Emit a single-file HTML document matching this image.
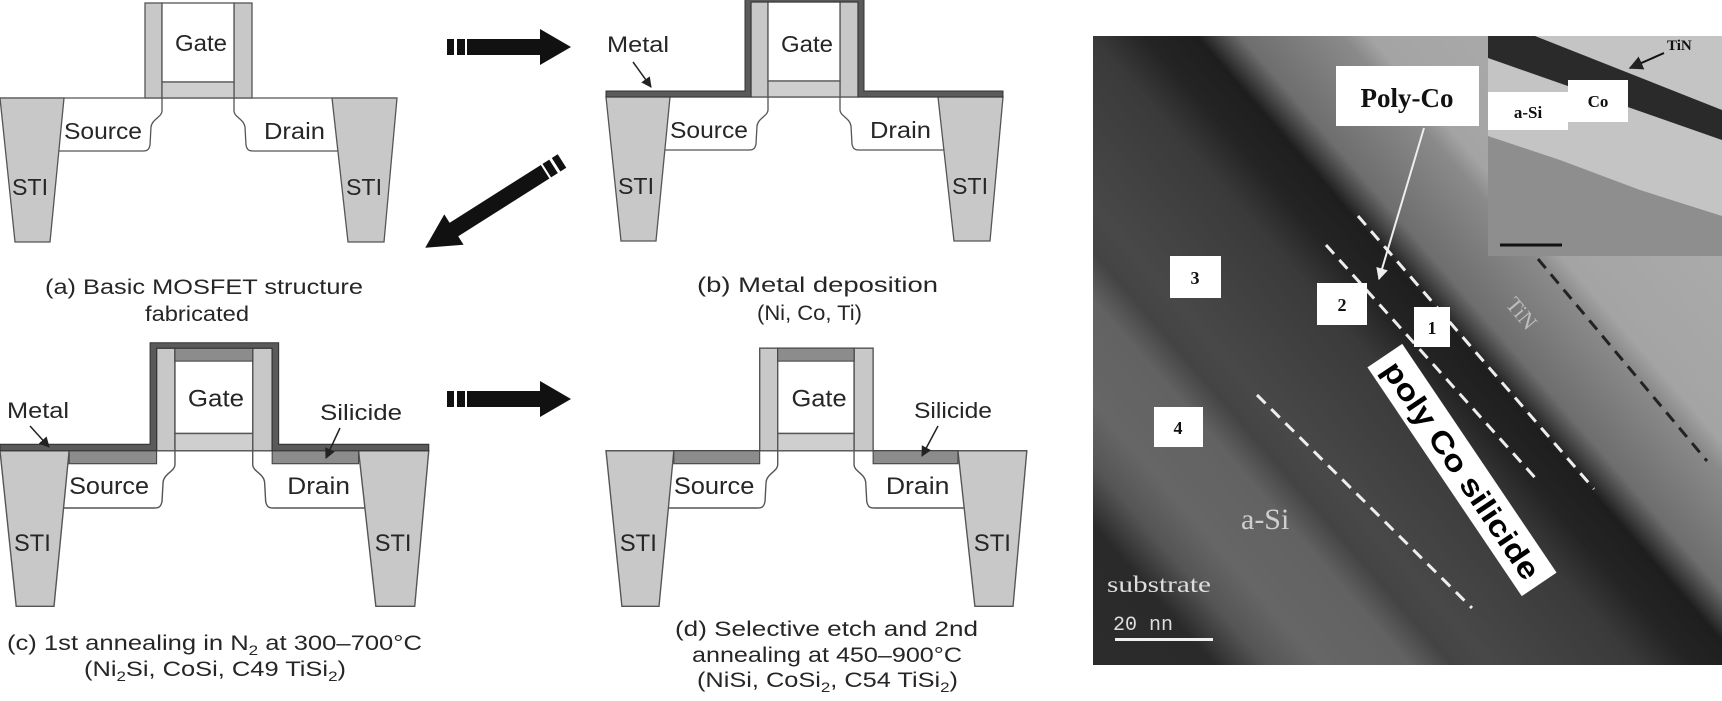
<!DOCTYPE html>
<html><head><meta charset="utf-8"><style>
html,body{margin:0;padding:0;background:#fff;}
svg{display:block;}
.t{font-family:"Liberation Sans",sans-serif;fill:#262626;}
.s{font-family:"Liberation Serif",serif;font-weight:bold;fill:#111;}
</style></head><body>
<svg width="1722" height="701" viewBox="0 0 1722 701" xmlns="http://www.w3.org/2000/svg">
<defs>
<g id="base">
  <line x1="0" y1="97" x2="397" y2="97" stroke="#555" stroke-width="1.3"/>
  <polygon points="0,97 64,97 50,241 15,241" fill="#c8c8c8" stroke="#555" stroke-width="1.3"/>
  <polygon points="332,97 397,97 384,241 348,241" fill="#c8c8c8" stroke="#555" stroke-width="1.3"/>
  <path d="M162,97 L162,110 C162,116 152,118 151,126 L150,144 C149,149 147,150 143,150 L59,150" fill="none" stroke="#555" stroke-width="1.3"/>
  <path d="M234,97 L234,110 C234,116 244,118 245,126 L246,144 C247,149 249,150 253,150 L338,150" fill="none" stroke="#555" stroke-width="1.3"/>
  <rect x="145" y="2" width="17" height="95" fill="#c8c8c8" stroke="#555" stroke-width="1.3"/>
  <rect x="234" y="2" width="18" height="95" fill="#c8c8c8" stroke="#555" stroke-width="1.3"/>
  <rect x="162" y="2" width="72" height="79" fill="#fff" stroke="#555" stroke-width="1.3"/>
  <rect x="162" y="81" width="72" height="16" fill="#cfcfcf" stroke="#555" stroke-width="1.3"/>
</g>
<g id="metal">
  <polygon points="0,91 139,91 139,-3 258,-3 258,91 397,91 397,97 252,97 252,2 145,2 145,97 0,97" fill="#5a5a5a" stroke="#333" stroke-width="1"/>
</g>
<g id="silicide">
  <rect x="64" y="97" width="81" height="12" fill="#8c8c8c" stroke="#444" stroke-width="1"/>
  <rect x="252" y="97" width="80" height="12" fill="#8c8c8c" stroke="#444" stroke-width="1"/>
  <rect x="162" y="2" width="72" height="12" fill="#8c8c8c" stroke="#444" stroke-width="1"/>
</g>
<g id="arrowR">
  <rect x="0" y="-8" width="7" height="16" fill="#111"/>
  <rect x="10" y="-8" width="8" height="16" fill="#111"/>
  <rect x="20" y="-8" width="74" height="16" fill="#111"/>
  <polygon points="93,-18 124,0 93,18" fill="#111"/>
</g>
<marker id="ah" viewBox="0 0 10 10" refX="9" refY="5" markerWidth="7" markerHeight="7" orient="auto">
  <path d="M0,0 L10,5 L0,10 z" fill="#222"/>
</marker>
<marker id="ahw" viewBox="0 0 10 10" refX="9" refY="5" markerWidth="6" markerHeight="6" orient="auto">
  <path d="M0,0 L10,5 L0,10 z" fill="#eee"/>
</marker>
<linearGradient id="tem" gradientUnits="userSpaceOnUse" x1="1093" y1="665" x2="1763" y2="83">
  <stop offset="0" stop-color="#2c2c2c"/>
  <stop offset="0.103" stop-color="#2a2a2a"/>
  <stop offset="0.148" stop-color="#555"/>
  <stop offset="0.193" stop-color="#666"/>
  <stop offset="0.27" stop-color="#626262"/>
  <stop offset="0.305" stop-color="#444"/>
  <stop offset="0.339" stop-color="#484848"/>
  <stop offset="0.463" stop-color="#3a3a3a"/>
  <stop offset="0.508" stop-color="#242424"/>
  <stop offset="0.553" stop-color="#1e1e1e"/>
  <stop offset="0.59" stop-color="#6e6e6e"/>
  <stop offset="0.677" stop-color="#8a8a8a"/>
  <stop offset="0.70" stop-color="#a4a4a4"/>
  <stop offset="1" stop-color="#b2b2b2"/>
</linearGradient>
<clipPath id="temclip"><rect x="1093" y="36" width="629" height="629"/></clipPath>
</defs>

<!-- Panel (a) -->
<g transform="translate(0,1)">
  <use href="#base"/>
  <text class="t" x="175" y="50" font-size="23" textLength="52" lengthAdjust="spacingAndGlyphs">Gate</text>
  <text class="t" x="64" y="138" font-size="23" textLength="78" lengthAdjust="spacingAndGlyphs">Source</text>
  <text class="t" x="264" y="138" font-size="23" textLength="61" lengthAdjust="spacingAndGlyphs">Drain</text>
  <text class="t" x="12" y="194" font-size="23" textLength="36" lengthAdjust="spacingAndGlyphs">STI</text>
  <text class="t" x="346" y="194" font-size="23" textLength="36" lengthAdjust="spacingAndGlyphs">STI</text>
</g>
<text class="t" x="45" y="294" font-size="21" textLength="318" lengthAdjust="spacingAndGlyphs">(a)  Basic MOSFET structure</text>
<text class="t" x="145" y="321" font-size="21" textLength="104" lengthAdjust="spacingAndGlyphs">fabricated</text>

<!-- arrows -->
<use href="#arrowR" transform="translate(447,47)"/>
<g transform="translate(562,161) rotate(147.6)">
  <rect x="0" y="-8" width="7" height="16" fill="#111"/>
  <rect x="10" y="-8" width="8" height="16" fill="#111"/>
  <rect x="20" y="-8" width="110" height="16" fill="#111"/>
  <polygon points="128,-18 162,0 128,18" fill="#111"/>
</g>
<use href="#arrowR" transform="translate(447,399)"/>

<!-- Panel (b) -->
<g transform="translate(606,0)">
  <use href="#base"/>
  <use href="#metal"/>
  <text class="t" x="175" y="52" font-size="23" textLength="52" lengthAdjust="spacingAndGlyphs">Gate</text>
  <text class="t" x="64" y="138" font-size="23" textLength="78" lengthAdjust="spacingAndGlyphs">Source</text>
  <text class="t" x="264" y="138" font-size="23" textLength="61" lengthAdjust="spacingAndGlyphs">Drain</text>
  <text class="t" x="12" y="194" font-size="23" textLength="36" lengthAdjust="spacingAndGlyphs">STI</text>
  <text class="t" x="346" y="194" font-size="23" textLength="36" lengthAdjust="spacingAndGlyphs">STI</text>
</g>
<text class="t" x="607" y="52" font-size="22" textLength="62" lengthAdjust="spacingAndGlyphs">Metal</text>
<line x1="633" y1="62" x2="651" y2="87" stroke="#222" stroke-width="1.5" marker-end="url(#ah)"/>
<text class="t" x="697" y="292" font-size="21" textLength="241" lengthAdjust="spacingAndGlyphs">(b)  Metal deposition</text>
<text class="t" x="757" y="320" font-size="21" textLength="105" lengthAdjust="spacingAndGlyphs">(Ni, Co, Ti)</text>

<!-- Panel (c) -->
<g transform="translate(0,346) scale(1.08)">
  <use href="#base"/>
  <use href="#silicide"/>
  <use href="#metal"/>
  <text class="t" x="174" y="56" font-size="22" textLength="52" lengthAdjust="spacingAndGlyphs">Gate</text>
  <text class="t" x="64" y="137" font-size="22" textLength="74" lengthAdjust="spacingAndGlyphs">Source</text>
  <text class="t" x="266" y="137" font-size="22" textLength="58" lengthAdjust="spacingAndGlyphs">Drain</text>
  <text class="t" x="13" y="190" font-size="22" textLength="34" lengthAdjust="spacingAndGlyphs">STI</text>
  <text class="t" x="347" y="190" font-size="22" textLength="34" lengthAdjust="spacingAndGlyphs">STI</text>
</g>
<text class="t" x="7" y="418" font-size="22" textLength="62" lengthAdjust="spacingAndGlyphs">Metal</text>
<line x1="30" y1="426" x2="49" y2="447" stroke="#222" stroke-width="1.5" marker-end="url(#ah)"/>
<text class="t" x="320" y="420" font-size="22" textLength="82" lengthAdjust="spacingAndGlyphs">Silicide</text>
<line x1="340" y1="428" x2="326" y2="458" stroke="#222" stroke-width="1.5" marker-end="url(#ah)"/>
<text class="t" x="7" y="650" font-size="21" textLength="415" lengthAdjust="spacingAndGlyphs">(c) 1st annealing in N<tspan font-size="14" dy="5">2</tspan><tspan dy="-5"> at 300–700°C</tspan></text>
<text class="t" x="84" y="676" font-size="21" textLength="262" lengthAdjust="spacingAndGlyphs">(Ni<tspan font-size="14" dy="5">2</tspan><tspan dy="-5">Si, CoSi, C49 TiSi</tspan><tspan font-size="14" dy="5">2</tspan><tspan dy="-5">)</tspan></text>

<!-- Panel (d) -->
<g transform="translate(606,346) scale(1.06,1.08)">
  <use href="#base"/>
  <use href="#silicide"/>
  <text class="t" x="175" y="56" font-size="22" textLength="52" lengthAdjust="spacingAndGlyphs">Gate</text>
  <text class="t" x="64" y="137" font-size="22" textLength="76" lengthAdjust="spacingAndGlyphs">Source</text>
  <text class="t" x="264" y="137" font-size="22" textLength="60" lengthAdjust="spacingAndGlyphs">Drain</text>
  <text class="t" x="13" y="190" font-size="22" textLength="35" lengthAdjust="spacingAndGlyphs">STI</text>
  <text class="t" x="347" y="190" font-size="22" textLength="35" lengthAdjust="spacingAndGlyphs">STI</text>
</g>
<text class="t" x="914" y="418" font-size="22" textLength="78" lengthAdjust="spacingAndGlyphs">Silicide</text>
<line x1="938" y1="426" x2="922" y2="456" stroke="#222" stroke-width="1.5" marker-end="url(#ah)"/>
<text class="t" x="675" y="636" font-size="21" textLength="303" lengthAdjust="spacingAndGlyphs">(d) Selective etch and 2nd</text>
<text class="t" x="692" y="662" font-size="21" textLength="270" lengthAdjust="spacingAndGlyphs">annealing at 450–900°C</text>
<text class="t" x="697" y="687" font-size="21" textLength="261" lengthAdjust="spacingAndGlyphs">(NiSi, CoSi<tspan font-size="14" dy="5">2</tspan><tspan dy="-5">, C54 TiSi</tspan><tspan font-size="14" dy="5">2</tspan><tspan dy="-5">)</tspan></text>

<!-- TEM image -->
<g clip-path="url(#temclip)">
  <rect x="1093" y="36" width="629" height="629" fill="url(#tem)"/>
  <!-- inset -->
  <rect x="1488" y="36" width="234" height="220" fill="#c4c4c4"/>
  <polygon points="1488,136 1560,160 1640,190 1722,216 1722,256 1488,256" fill="#8e8e8e"/>
  <polygon points="1488,36 1535,36 1722,110 1722,140 1488,58" fill="#2a2a2a"/>
  <line x1="1500" y1="245" x2="1562" y2="245" stroke="#111" stroke-width="3"/>
  <!-- dashed lines -->
  <line x1="1358" y1="216" x2="1594" y2="489" stroke="#eee" stroke-width="3" stroke-dasharray="12,8"/>
  <line x1="1326" y1="245" x2="1538" y2="481" stroke="#eee" stroke-width="3" stroke-dasharray="12,8"/>
  <line x1="1257" y1="395" x2="1472" y2="608" stroke="#eee" stroke-width="3" stroke-dasharray="12,8"/>
  <line x1="1538" y1="259" x2="1707" y2="461" stroke="#222" stroke-width="3" stroke-dasharray="12,8"/>
  <!-- labels -->
  <rect x="1336" y="66" width="143" height="60" fill="#fff"/>
  <text class="s" x="1407" y="107" font-size="27" text-anchor="middle">Poly-Co</text>
  <line x1="1424" y1="128" x2="1379" y2="279" stroke="#eee" stroke-width="2" marker-end="url(#ahw)"/>
  <rect x="1488" y="92" width="80" height="38" fill="#fff"/>
  <text class="s" x="1528" y="118" font-size="17" text-anchor="middle">a-Si</text>
  <rect x="1568" y="80" width="60" height="42" fill="#fff"/>
  <text class="s" x="1598" y="107" font-size="17" text-anchor="middle">Co</text>
  <text class="s" x="1667" y="50" font-size="15">TiN</text>
  <line x1="1664" y1="53" x2="1630" y2="68" stroke="#111" stroke-width="2" marker-end="url(#ah)"/>
  <rect x="1170" y="256" width="51" height="42" fill="#fff"/>
  <text class="s" x="1195" y="284" font-size="18" text-anchor="middle">3</text>
  <rect x="1317" y="283" width="50" height="42" fill="#fff"/>
  <text class="s" x="1342" y="311" font-size="18" text-anchor="middle">2</text>
  <rect x="1414" y="307" width="36" height="40" fill="#fff"/>
  <text class="s" x="1432" y="334" font-size="18" text-anchor="middle">1</text>
  <rect x="1154" y="407" width="49" height="40" fill="#fff"/>
  <text class="s" x="1178" y="434" font-size="18" text-anchor="middle">4</text>
  <text font-family="Liberation Serif,serif" x="1516" y="318" font-size="22" fill="#bdbdbd" text-anchor="middle" transform="rotate(50 1516 318)">TiN</text>
  <g transform="translate(1462,470) rotate(56)">
    <rect x="-138" y="-21" width="276" height="42" fill="#fff"/>
    <text x="0" y="11" font-family="Liberation Sans,sans-serif" font-weight="bold" font-size="30" fill="#000" text-anchor="middle" textLength="256" lengthAdjust="spacingAndGlyphs">poly Co silicide</text>
  </g>
  <text font-family="Liberation Serif,serif" x="1241" y="529" font-size="30" fill="#cfcfcf">a-Si</text>
  <text font-family="Liberation Serif,serif" x="1107" y="592" font-size="23" fill="#ddd" textLength="104" lengthAdjust="spacingAndGlyphs">substrate</text>
  <text font-family="Liberation Mono,monospace" x="1113" y="630" font-size="20" fill="#ddd" textLength="60" lengthAdjust="spacingAndGlyphs">20 nn</text>
  <rect x="1115" y="638" width="98" height="3" fill="#f0f0f0"/>
</g>
</svg>
</body></html>
